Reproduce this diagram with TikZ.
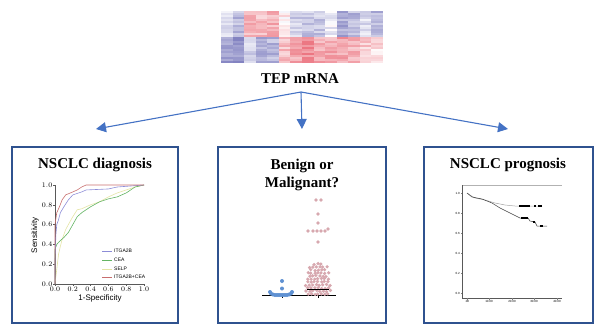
\documentclass[tikz,border=0pt]{standalone}
\usepackage{fontspec}
\setmainfont{Liberation Serif}
\newfontfamily\plotfont{Liberation Sans}
\usetikzlibrary{arrows.meta}
\definecolor{boxblue}{RGB}{47,82,143}
\definecolor{arrblue}{RGB}{68,114,196}
\definecolor{hmblue}{RGB}{100,100,178}
\definecolor{hmred}{RGB}{230,75,90}
\definecolor{rocblue}{RGB}{140,140,215}
\definecolor{rocgreen}{RGB}{100,180,100}
\definecolor{rocyellow}{RGB}{228,228,165}
\definecolor{rocred}{RGB}{200,110,110}
\definecolor{dotblue}{RGB}{95,145,210}
\definecolor{dotpink}{RGB}{215,168,175}
\tikzset{
  panel/.style={draw=boxblue, line width=2.2pt, minimum width=#1, minimum height=176pt, inner sep=0pt},
  paneltitle/.style={font=\fontsize{15}{18}\selectfont\bfseries, align=center, inner sep=0pt},
  arr/.style={draw=arrblue, line width=1.1pt, -{Triangle[length=10pt,width=10pt]}},
  tick/.style={font=\plotfont\fontsize{7.5}{8}\selectfont, inner sep=1pt},
  legtxt/.style={font=\plotfont\fontsize{5}{6}\selectfont, inner sep=0pt, anchor=west},
  kmtick/.style={font=\plotfont\fontsize{3}{3}\selectfont, inner sep=0.5pt},
  pdot/.style={fill=dotpink},
  bdot/.style={fill=dotblue}
}
\begin{document}
\begin{tikzpicture}[x=1pt,y=-1pt]
\useasboundingbox (0,0) rectangle (600,330);
% heatmap
\pgfmathsetseed{11}
\foreach \t/\b [count=\i from 0] in {-0.2/-0.65,-0.45/-0.7,0.4/-0.3,0.35/-0.5,0.45/-0.45,0.1/0.35,-0.3/0.5,-0.35/0.6,-0.35/0.45,-0.1/0.45,-0.55/0.5,-0.45/0.45,-0.2/0.3,-0.45/0.2}{
  \foreach \r in {0,...,25}{
    \pgfmathsetmacro\v{(\r<13 ? \t : \b) + 0.18*rand}
    \pgfmathtruncatemacro\p{min(80,abs(\v)*100)}
    \ifdim \v pt<0pt \def\hc{hmblue}\else\def\hc{hmred}\fi
    \fill[\hc!\p!white] (221+\i*11.57,11+\r*2) rectangle ++(11.6,2.05);
  }
}
\node[font=\fontsize{15}{18}\selectfont\bfseries, inner sep=0pt] (tep) at (300,79) {TEP mRNA};
% arrows
\coordinate (apex) at (301,92);
\coordinate (t1) at (96,129);
\coordinate (t2) at (302,129);
\coordinate (t3) at (508,129);
\draw[arr] (apex) -- (t1);
\draw[arr] (apex) -- (t2);
\draw[arr] (apex) -- (t3);
% panels
\node[panel=166pt] (b1) at (95,235) {};
\node[panel=168pt] (b2) at (302,235) {};
\node[panel=169pt] (b3) at (508.5,235) {};
\node[paneltitle] (h1) at (95,165) {NSCLC diagnosis};
\node[paneltitle] (h2) at (302,175) {Benign or\\Malignant?};
\node[paneltitle] (h3) at (508,165) {NSCLC prognosis};
% ROC plot
\begin{scope}[shift={(55,284)}, x=89pt, y=99pt]
  \draw[gray!70!black, line width=0.5pt] (0,1) -- (0,0) -- (1,0);
  \foreach \k in {0,0.2,0.4,0.6,0.8,1.0}{
    \draw[gray!70!black, line width=0.4pt] (0,\k) -- ++(-2pt,0);
    \draw[gray!70!black, line width=0.4pt] (\k,0) -- ++(0,-2pt);
    \node[tick, anchor=east] at ([xshift=-1.5pt]0,\k) {\pgfmathprintnumber[fixed,precision=1,zerofill]{\k}};
    \node[tick, anchor=north] at ([yshift=-1.5pt]\k,0) {\pgfmathprintnumber[fixed,precision=1,zerofill]{\k}};
  }
  \draw[rocyellow, line width=0.6pt] (0,0) -- (0.02,0.15) -- (0.04,0.3) -- (0.06,0.38) -- (0.08,0.45) -- (0.12,0.55) -- (0.15,0.6) -- (0.2,0.68) -- (0.25,0.75) -- (0.3,0.76) -- (0.4,0.8) -- (0.5,0.83) -- (0.6,0.88) -- (0.7,0.92) -- (0.8,0.95) -- (0.9,0.98) -- (1,1);
  \draw[rocgreen, line width=0.6pt] (0,0) -- (0,0.35) -- (0.02,0.4) -- (0.05,0.43) -- (0.1,0.47) -- (0.15,0.52) -- (0.2,0.6) -- (0.25,0.68) -- (0.3,0.72) -- (0.4,0.78) -- (0.5,0.83) -- (0.6,0.86) -- (0.7,0.88) -- (0.8,0.92) -- (0.9,0.98) -- (1,1);
  \draw[rocblue, line width=0.6pt] (0,0) -- (0,0.25) -- (0.01,0.5) -- (0.02,0.6) -- (0.04,0.65) -- (0.06,0.72) -- (0.08,0.75) -- (0.1,0.78) -- (0.15,0.85) -- (0.2,0.9) -- (0.3,0.93) -- (0.35,0.95) -- (0.6,0.96) -- (0.7,0.98) -- (1,1);
  \draw[rocred, line width=0.6pt] (0,0) -- (0,0.6) -- (0.02,0.72) -- (0.05,0.78) -- (0.08,0.85) -- (0.12,0.9) -- (0.2,0.93) -- (0.25,0.95) -- (0.3,0.98) -- (0.35,1) -- (1,1);
\end{scope}
\node[tick, font=\plotfont\fontsize{8}{9}\selectfont] (xl) at (100,298) {1-Specificity};
\node[tick, font=\plotfont\fontsize{8}{9}\selectfont, rotate=90] (yl) at (35,235) {Sensitivity};
\foreach \c/\lab/\yy in {rocblue/ITGA2B/251, rocgreen/CEA/260, rocyellow/SELP/269, rocred/ITGA2B+CEA/277}{
  \draw[\c, line width=0.7pt] (102,\yy) -- (112,\yy);
  \node[legtxt] at (114,\yy) {\lab};
}
% dot plot
\draw[black, line width=0.7pt] (262,295) -- (336,295);
\draw[black, line width=0.5pt] (282,295) -- (282,297.5);
\draw[black, line width=0.5pt] (318,295) -- (318,297.5);
\foreach \xx/\yy in {316/200,321/200,318/214,318/223,308/231,313/231,317/231,321/231,325/231,328/229,318/242}{
  \fill[pdot] (\xx,\yy) circle (1.8);
}
\foreach \yy/\n in {264/3,267/6,270/5,273/7,276/6,279/7,282/7,285/8,288/7,291/8,294/7}{
  \foreach \j in {1,...,\n}{
    \pgfmathsetmacro\xx{318 + (\j-(\n+1)/2)*3.4 + 0.6*rand}
    \fill[pdot] (\xx,\yy+0.6*rand) circle (1.8);
  }
}
\draw[black, line width=0.7pt] (307,289) -- (329,289);
\foreach \xx/\yy in {282/281,282/288.5,270/292,271/293.5,273/294.5,275/295,277/295,279/295,281/295,283/295,285/295,287/295,289/294.5,291/293.5,292/292}{
  \fill[bdot] (\xx,\yy) circle (2);
}
% KM plot
\draw[gray!60, line width=0.5pt] (462,185) -- (562,185);
\draw[gray!70!black, line width=0.5pt] (462,185) -- (462,298) -- (562,298);
\foreach \yy/\lab in {193/1.0,213/0.8,233/0.6,253/0.4,273/0.2,293/0.0}{
  \draw[gray, line width=0.3pt] (462,\yy) -- (460.5,\yy);
  \node[kmtick, anchor=east] at (460.5,\yy) {\lab};
}
\foreach \xx/\lab in {467/.00,489/10.00,512/20.00,534/30.00,557/40.00}{
  \draw[gray, line width=0.3pt] (\xx,298) -- (\xx,299.5);
  \node[kmtick, anchor=north] at (\xx,299.5) {\lab};
}
\draw[gray!70, line width=0.5pt] (467,193) -- (470,195) -- (475,198) -- (485,200) -- (495,203) -- (505,205) -- (515,206) -- (542,206);
\draw[black!75, line width=0.5pt] (467,193) -- (472,197) -- (482,199) -- (492,203) -- (500,208) -- (510,213) -- (520,218) -- (528,218) -- (530,221) -- (535,222) -- (537,226) -- (547,226);
\draw[black, line width=1.6pt] (519,206) -- (530,206) (534,206) -- (536,206) (538,206) -- (542,206);
\draw[black, line width=1.6pt] (521,218) -- (528,218) (533,222) -- (535,222) (540,226) -- (543,226);
\end{tikzpicture}
\end{document}
